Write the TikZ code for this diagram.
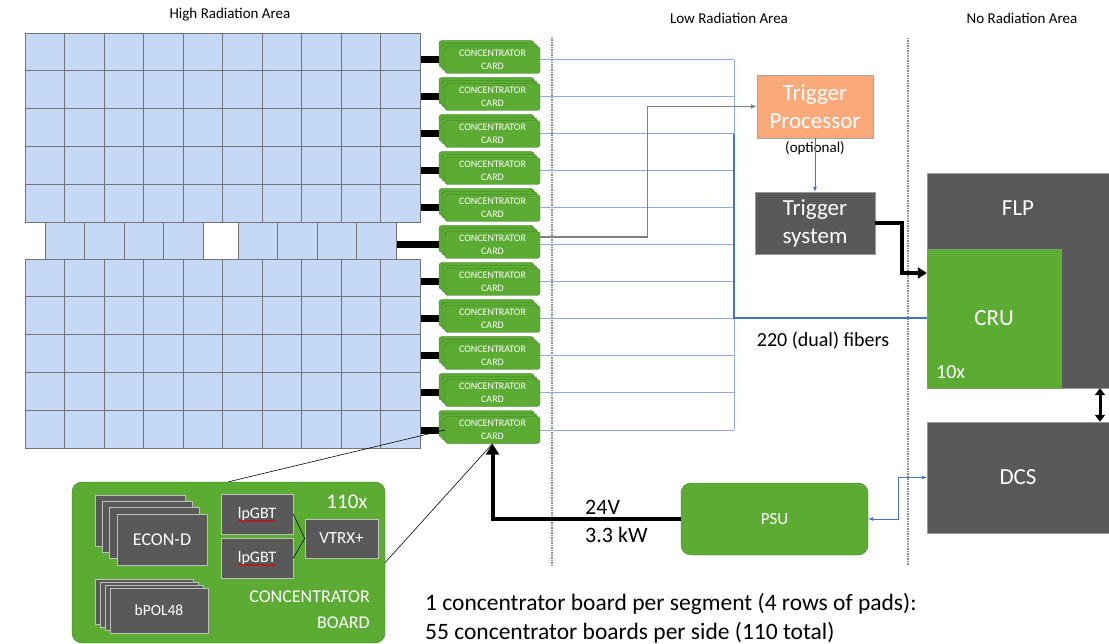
\documentclass[tikz,border=0pt]{standalone}
\usepackage{fontspec}
\setmainfont{Carlito}
\usetikzlibrary{positioning,arrows.meta,backgrounds,decorations.pathmorphing}
\definecolor{cellblue}{RGB}{197,217,247}
\definecolor{cgreen}{RGB}{92,172,52}
\definecolor{cedge}{RGB}{58,122,34}
\definecolor{dgray}{RGB}{89,89,89}
\definecolor{orng}{RGB}{250,170,122}
\definecolor{lblue}{RGB}{143,170,220}
\definecolor{dblue}{RGB}{68,114,196}
\newcommand{\fsz}[2]{\fontsize{#1}{#2}\selectfont}

\begin{document}
\begin{tikzpicture}[x=1pt,y=-1pt]
        \tikzstyle{cell} = [draw=black!55,fill=cellblue,line width=0.8pt]
        \tikzstyle{card} = [draw=cedge,fill=cgreen,rounded corners=3pt,minimum width=95pt,minimum height=27pt,inner sep=0pt,text=white,align=center,font=\fsz{10}{12.5}]
        \tikzstyle{layer} = [draw=cedge,fill=cgreen,rounded corners=3pt]
        \tikzstyle{dbox} = [draw=black!40,fill=dgray,text=white,inner sep=0pt]
        \tikzstyle{chip} = [dbox,draw=black!25,line width=0.6pt]
        \tikzstyle{area} = [font=\fsz{15}{18}]
        \tikzstyle{sep} = [densely dotted,black!45,line width=1.5pt]
        \tikzstyle{fiber} = [lblue,line width=1pt]
        \tikzstyle{bus} = [dblue,line width=2pt]
        \tikzstyle{bar} = [line width=7pt]
        \tikzstyle{pow} = [line width=4pt,-{Triangle[length=11pt,width=13pt]}]
        \tikzstyle{trig} = [line width=3.5pt,-{Triangle[length=9pt,width=11pt]}]
        \tikzstyle{ctl} = [dblue,line width=0.8pt]

        \useasboundingbox (0,0) rectangle (1109,644);

        \node[area] (hra) at (230,15) {High Radiation Area};
        \node[area] (lra) at (729,18) {Low Radiation Area};
        \node[area] (nra) at (1022,18) {No Radiation Area};
        \draw[sep] (552,37) -- (552,565);
        \draw[sep] (908,38) -- (908,565);

        % pads
        \foreach \r in {0,...,4} \foreach \c in {0,...,9} {
          \draw[cell] (25+39.5*\c,33+37.8*\r) rectangle ++(39.5,37.8);
          \draw[cell] (25+39.5*\c,259+37.8*\r) rectangle ++(39.5,37.8);
        }
        \foreach \x in {45,84.5,124,163.5,238,277.5,317,356.5} {
          \draw[cell] (\x,222) rectangle ++(39.5,37);
        }
        \draw[cell,fill=white] (203,222) rectangle (238,259);

        % concentrator cards
        \foreach \i/\y/\g in {1/60/420, 2/97/420, 3/134/420, 4/171/420, 5/208/420, 6/245/396,
          7/282/420, 8/319/420, 9/356/420, 10/393/420, 11/430/420} {
          \foreach \d in {6,3} \draw[layer] (445-\d,\y-13.5-\d) rectangle ++(95,27);
          \node[card] (c\i) at (492.5,\y) {CONCENTRATOR\\CARD};
          \coordinate (g\i) at (\g,\y);
          \coordinate (b\i) at (734,\y);
        }
        \begin{scope}[on background layer]
          \foreach \i in {1,...,11} {
            \draw[bar] (g\i) -- (c\i.west);
          }
        \end{scope}

        \node[fill=orng,draw=black!35,text=white,minimum width=116pt,minimum height=63pt,inner sep=0pt,align=center,font=\fsz{23}{28}] (tp) at (815,106.5) {Trigger\\Processor};
        \node[below=0pt of tp,font=\fsz{15}{18}] (opt) {(optional)};
        \node[dbox,minimum width=120pt,minimum height=62pt,align=center,font=\fsz{23}{28}] (ts) at (815,223) {Trigger\\system};
        \node[dbox,minimum width=182pt,text height=43pt,text depth=172pt,font=\fsz{23}{28}] (flp) at (1018,280.5) {FLP};
        \node[draw=cedge!70,fill=cgreen,text=white,minimum width=134pt,minimum height=139pt,inner sep=0pt,font=\fsz{23}{28}] (cru) at (994,318.5) {CRU};
        \node[text=white,font=\fsz{20}{24},anchor=west,inner sep=0pt] (ten) at (936,372) {10x};
        \node[dbox,minimum width=182pt,minimum height=111pt,font=\fsz{23}{28}] (dcs) at (1018,477.5) {DCS};
        \node[draw=cedge,fill=cgreen,rounded corners=10pt,text=white,minimum width=187pt,minimum height=72pt,font=\fsz{17}{20}] (psu) at (774.5,519) {PSU};

        \foreach \i in {1,...,11} {
          \draw[fiber] (c\i.east) -- (b\i);
        }
        \draw[fiber] (b1) -- (b11);
        \draw[bus] (b3) |- (cru.west);
        \draw[black!50,line width=1.2pt,-{Latex[length=6pt,width=5pt]}] ([yshift=8pt]c6.east) -- ++(107,0) |- (tp.west);
        \draw[ctl,-{Latex[length=5pt,width=4pt]}] (tp.south) -- (ts.north);
        \draw[trig] (ts.east) -- ++(27,0) |- ([yshift=45.5pt]cru.west);
        \draw[line width=3pt,{Triangle[length=7pt,width=10pt]}-{Triangle[length=7pt,width=10pt]}] ([xshift=82pt]flp.south) -- ([xshift=82pt]dcs.north);
        \draw[ctl,{Latex[length=5pt,width=4pt]}-{Latex[length=5pt,width=4pt]}] (psu.east) -- ++(30,0) |- (dcs.west);
        \draw[pow] (psu.west) -| (c11.south);
        \node[font=\fsz{22}{28},align=left,anchor=west,inner sep=0pt] (pw) at (585,521) {24V\\3.3 kW};
        \node[font=\fsz{20}{24}] (fib) at (823,341) {220 (dual) fibers};

        % concentrator board
        \node[draw=cedge,fill=cgreen,rounded corners=10pt,minimum width=313pt,minimum height=161pt] (cb) at (228.5,562.5) {};
        \foreach \k in {3,2,1} \draw[chip] (117-7.3*\k,514-6.3*\k) rectangle ++(90,51);
        \node[chip,minimum width=90pt,minimum height=51pt,font=\fsz{18}{20}] (econ) at (162,539.5) {ECON-D};
        \foreach \k in {3,2,1} \draw[chip] (110-5*\k,588-3*\k) rectangle ++(98,45);
        \node[chip,minimum width=98pt,minimum height=45pt,font=\fsz{15.5}{18}] (bpol) at (159,610.5) {bPOL48};
        \node[chip,minimum width=72pt,minimum height=40pt,font=\fsz{16}{18}] (l1) at (257,514) {lpGBT};
        \node[chip,minimum width=72pt,minimum height=40pt,font=\fsz{16}{18}] (l2) at (257,558) {lpGBT};
        \node[chip,minimum width=73pt,minimum height=39pt,font=\fsz{17}{20}] (vt) at (341.5,538.5) {VTRX+};
        \foreach \l in {l1,l2} {
          \draw[red!85!black,line width=0.6pt,decorate,decoration={snake,amplitude=0.6pt,segment length=2.5pt}] ([xshift=-19pt,yshift=-7pt]\l.center) -- ([xshift=19pt,yshift=-7pt]\l.center);
        }
        \draw[line width=0.6pt] (l1.east) -- (vt.west) -- (l2.east);
        \node[text=white,font=\fsz{21}{24}] (nb) at (347,502) {110x};
        \node[text=white,font=\fsz{18}{26},align=right,anchor=east,inner sep=0pt] (cbt) at (370,610) {CONCENTRATOR\\BOARD};
        \draw[line width=0.6pt] (c11.west) -- (cb.north);
        \draw[line width=0.6pt] (c11.south) -- (cb.east);

        \node[font=\fsz{23.5}{29},align=left,anchor=west,inner sep=0pt] (note) at (425,618) {1 concentrator board per segment (4 rows of pads):\\55 concentrator boards per side (110 total)};
\end{tikzpicture}
\end{document}
